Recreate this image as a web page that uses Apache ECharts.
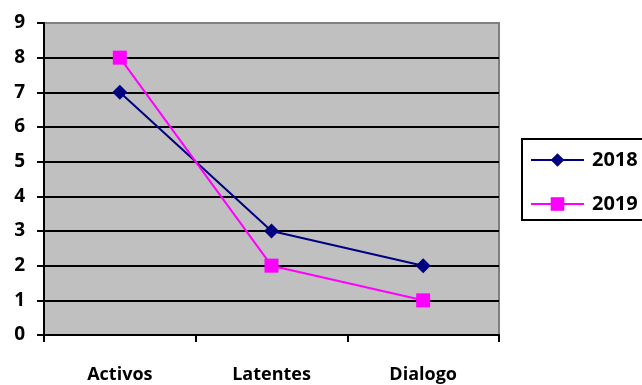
<!DOCTYPE html>
<html>
<head>
<meta charset="utf-8">
<script src="https://cdn.jsdelivr.net/npm/echarts@6/dist/echarts.min.js"></script>
<style>
  html, body { margin: 0; padding: 0; background: #fff; }
  #main { width: 642px; height: 385px; }
</style>
</head>
<body>
<div id="main"></div>
<script>
var categories = ["Activos", "Latentes", "Dialogo"];
var values2018 = [7, 3, 2];
var values2019 = [8, 2, 1];

var FONT = "Open Sans";

var myChart = echarts.init(document.getElementById('main'));

// gridline colours per tick (0..9): black, top one grey like the plot border
var splitColors = [];
for (var i = 0; i < 10; i++) {
  splitColors.push(i === 9 ? "#808080" : "#000000");
}

myChart.setOption({
  animation: false,
  backgroundColor: "#ffffff",
  // legend frame, runs off the right edge like the original
  graphic: [{
    type: "rect",
    left: 521,
    top: 138,
    shape: { width: 140, height: 81 },
    style: { fill: "#fff", stroke: "#000", lineWidth: 2 },
    z: -1
  }],
  grid: {
    left: 44,
    right: 143,
    top: 23,
    bottom: 50,
    show: true,
    backgroundColor: "#c0c0c0",
    borderColor: "#808080",
    borderWidth: 2
  },
  legend: {
    orient: "vertical",
    left: 530,
    top: 150,
    padding: 0,
    itemGap: 24,
    itemWidth: 53,
    itemHeight: 17,
    textStyle: { fontFamily: FONT, fontWeight: "bold", fontSize: 20, color: "#000", padding: [0, 0, 0, 3] },
    data: ["2018", "2019"]
  },
  xAxis: {
    type: "category",
    data: categories,
    boundaryGap: true,
    axisLine: { lineStyle: { color: "#000", width: 2 } },
    axisTick: { show: true, length: 7, lineStyle: { color: "#000", width: 2 } },
    axisLabel: { margin: 31, fontFamily: FONT, fontWeight: "bold", fontSize: 18, color: "#000" },
    splitLine: { show: false }
  },
  yAxis: {
    type: "value",
    min: 0,
    max: 9,
    interval: 1,
    axisLine: { show: true, lineStyle: { color: "#000", width: 2 } },
    axisTick: { show: true, length: 7, lineStyle: { color: "#000", width: 2 } },
    axisLabel: { margin: 19, fontFamily: FONT, fontWeight: "bold", fontSize: 19, color: "#000" },
    splitLine: { show: true, lineStyle: { color: splitColors, width: 2 } }
  },
  series: [
    {
      name: "2018",
      type: "line",
      data: values2018,
      symbol: "diamond",
      symbolSize: 15,
      lineStyle: { color: "#000080", width: 2 },
      itemStyle: { color: "#000080" }
    },
    {
      name: "2019",
      type: "line",
      data: values2019,
      symbol: "rect",
      symbolSize: 14,
      lineStyle: { color: "#ff00ff", width: 2 },
      itemStyle: { color: "#ff00ff" }
    }
  ]
});
</script>
</body>
</html>
